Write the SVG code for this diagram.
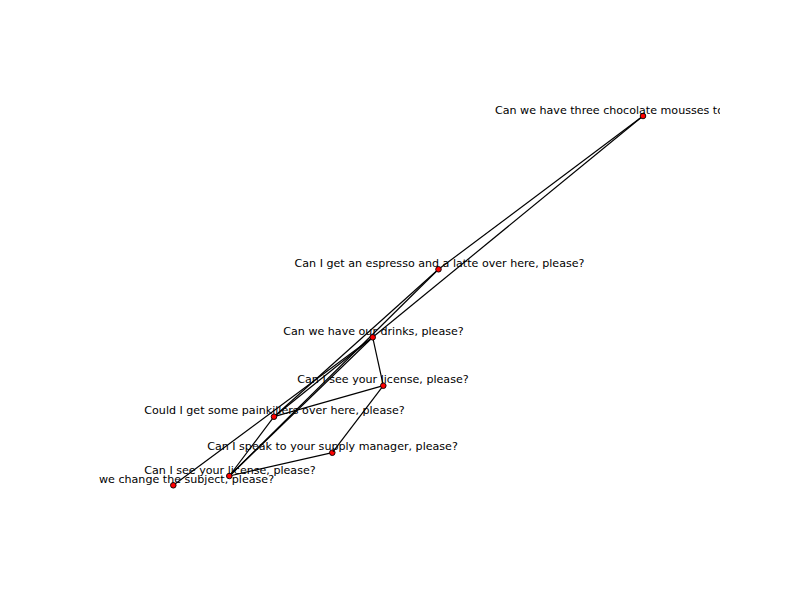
<svg xmlns="http://www.w3.org/2000/svg" width="800" height="600" viewBox="0 0 800 600">
<defs>
<clipPath id="ax"><rect x="100" y="72" width="620" height="462"/></clipPath>
<style>
.e{stroke:#000;stroke-width:1.2;fill:none}
.n{fill:#ff0000;stroke:#000;stroke-width:0.9}
.l{font-family:"DejaVu Sans",sans-serif;font-size:11.1px;fill:#000;text-anchor:middle}
</style>
</defs>
<rect width="800" height="600" fill="#fff"/>
<g id="edges">
<line class="e" x1="643" y1="116" x2="438.5" y2="269.3"/>
<line class="e" x1="643" y1="116" x2="372.7" y2="337.3"/>
<line class="e" x1="438.5" y1="269.3" x2="274" y2="416.7"/>
<line class="e" x1="438.5" y1="269.3" x2="229.3" y2="476"/>
<line class="e" x1="372.7" y1="337.3" x2="383.3" y2="385.7"/>
<line class="e" x1="372.7" y1="337.3" x2="274" y2="416.7"/>
<line class="e" x1="372.7" y1="337.3" x2="229.3" y2="476"/>
<line class="e" x1="372.7" y1="337.3" x2="173.3" y2="485.3"/>
<line class="e" x1="383.3" y1="385.7" x2="274" y2="416.7"/>
<line class="e" x1="383.3" y1="385.7" x2="332.3" y2="452.7"/>
<line class="e" x1="274" y1="416.7" x2="229.3" y2="476"/>
<line class="e" x1="332.3" y1="452.7" x2="229.3" y2="476"/>
</g>
<g id="nA"><circle class="n" cx="643" cy="116" r="2.8"/><text class="l" x="495" y="113.5" style="text-anchor:start" clip-path="url(#ax)">Can we have three chocolate mousses to</text></g>
<g id="nB"><circle class="n" cx="438.5" cy="269.3" r="2.8"/><text class="l" x="439.5" y="266.5">Can I get an espresso and a latte over here, please?</text></g>
<g id="nC"><circle class="n" cx="372.7" cy="337.3" r="2.8"/><text class="l" x="373.5" y="334.5">Can we have our drinks, please?</text></g>
<g id="nD"><circle class="n" cx="383.3" cy="385.7" r="2.8"/><text class="l" x="383" y="383">Can I see your license, please?</text></g>
<g id="nE"><circle class="n" cx="274" cy="416.7" r="2.8"/><text class="l" x="274.5" y="414">Could I get some painkillers over here, please?</text></g>
<g id="nF"><circle class="n" cx="332.3" cy="452.7" r="2.8"/><text class="l" x="332.5" y="450">Can I speak to your supply manager, please?</text></g>
<g id="nG"><circle class="n" cx="229.3" cy="476" r="2.8"/><text class="l" x="230" y="473.5">Can I see your license, please?</text></g>
<g id="nH"><circle class="n" cx="173.3" cy="485.3" r="2.8"/><text class="l" x="99" y="483" style="text-anchor:start">we change the subject, please?</text></g>
</svg>
